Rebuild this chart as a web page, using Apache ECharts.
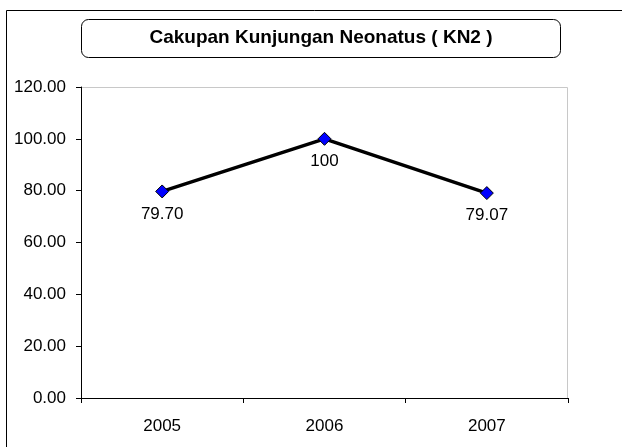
<!DOCTYPE html>
<html>
<head>
<meta charset="utf-8">
<script src="https://cdn.jsdelivr.net/npm/echarts@6/dist/echarts.min.js"></script>
<style>
  html, body { margin: 0; padding: 0; background: #fff; }
  #chart { width: 622px; height: 447px; }
</style>
</head>
<body>
<div id="chart"></div>
<script>
const years = ['2005', '2006', '2007'];
const coverage = [79.70, 100, 79.07];
const valueLabels = ['79.70', '100', '79.07'];

const chart = echarts.init(document.getElementById('chart'), null, {renderer: 'canvas'});
const font = 'Liberation Sans, Arial, sans-serif';

const option = {
    animation: false,
    backgroundColor: '#fff',
    textStyle: { fontFamily: font },
    graphic: [
        {
            // outer frame, runs off the right and bottom edge
            type: 'rect',
            shape: { x: 6.5, y: 10.5, width: 640, height: 460 },
            style: { fill: 'none', stroke: '#000', lineWidth: 1 },
            z: -1
        },
        {
            type: 'rect',
            shape: { x: 81.5, y: 19.5, width: 479, height: 38, r: 7 },
            style: { fill: '#fff', stroke: '#000', lineWidth: 1 }
        },
        {
            type: 'text',
            x: 321, y: 38,
            style: {
                text: 'Cakupan Kunjungan Neonatus ( KN2 )',
                fill: '#000', font: 'bold 19px ' + font,
                align: 'center', verticalAlign: 'middle'
            }
        },
        {
            // light frame on top and right of plot area
            type: 'polyline',
            shape: { points: [[81, 87.5], [567.5, 87.5], [567.5, 398]] },
            style: { stroke: '#c8c8c8', lineWidth: 1, fill: 'none' }
        }
    ],
    grid: { left: 81, top: 87, width: 487, height: 311, containLabel: false },
    xAxis: {
        type: 'category',
        data: years,
        boundaryGap: true,
        axisLine: { lineStyle: { color: '#000', width: 1 } },
        axisTick: { show: true, length: 5, inside: false, lineStyle: { color: '#000' } },
        axisLabel: { color: '#000', fontSize: 17, margin: 20 },
        splitLine: { show: false }
    },
    yAxis: {
        type: 'value',
        min: 0, max: 120, interval: 20,
        axisLine: { show: true, lineStyle: { color: '#000', width: 1 } },
        axisTick: { show: true, length: 5, lineStyle: { color: '#000' } },
        axisLabel: {
            color: '#000', fontSize: 17, margin: 15,
            formatter: v => v.toFixed(2)
        },
        splitLine: { show: false }
    },
    series: [{
        type: 'line',
        data: coverage,
        symbol: 'diamond',
        symbolSize: 13,
        lineStyle: { color: '#000', width: 3.5 },
        itemStyle: { color: '#0000ff', borderColor: '#000', borderWidth: 1 },
        label: {
            show: true,
            position: 'bottom',
            distance: 7,
            color: '#000',
            fontSize: 17,
            formatter: p => valueLabels[p.dataIndex]
        }
    }]
};

chart.setOption(option);
window.addEventListener('resize', chart.resize);
</script>
</body>
</html>
